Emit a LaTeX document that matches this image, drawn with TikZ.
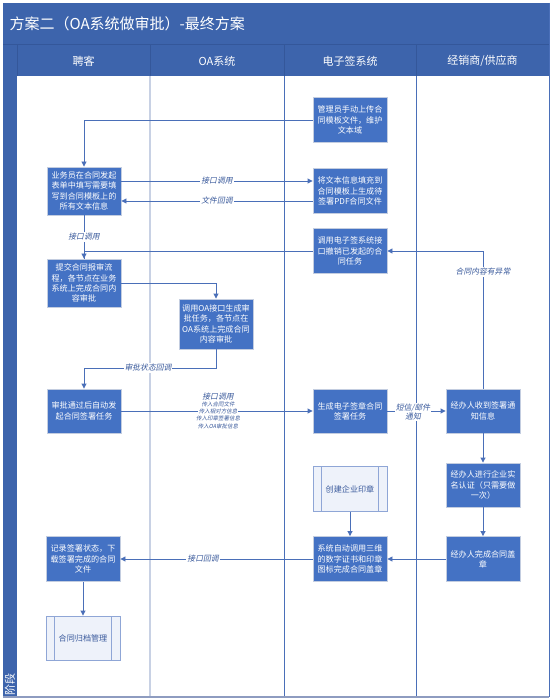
\documentclass[tikz,border=0pt]{standalone}
\usepackage{fontspec}
\newfontfamily\cjk{Noto Sans CJK SC}
\newfontfamily\cjkit[FakeSlant=0.2]{Noto Sans CJK SC}
\usetikzlibrary{arrows.meta}
\definecolor{band}{HTML}{3D64AC}
\definecolor{bandline}{HTML}{34579A}
\definecolor{boxfill}{HTML}{4472C4}
\definecolor{boxedge}{HTML}{C3CDE0}
\definecolor{lineblue}{HTML}{4A6FB8}
\definecolor{lbltext}{HTML}{3A5A9C}
\definecolor{ppfill}{HTML}{EEF2FA}
\definecolor{ppedge}{HTML}{8FA6D6}
\definecolor{lanelight}{HTML}{C8D1E4}
\definecolor{bottomline}{HTML}{8E9CC0}
\tikzset{
  procbox/.style={rectangle, fill=boxfill, draw=boxedge, line width=0.9pt, text=white,
    minimum width=74pt, minimum height=45pt, inner sep=1pt, align=center,
    font=\cjk\fontsize{8.1}{10.2}\selectfont},
  predef/.style={procbox, fill=ppfill, draw=ppedge, text=lbltext,
    path picture={\draw[ppedge, line width=0.9pt]
      ([xshift=8.5pt]path picture bounding box.north west) -- ([xshift=8.5pt]path picture bounding box.south west)
      ([xshift=-8.5pt]path picture bounding box.north east) -- ([xshift=-8.5pt]path picture bounding box.south east);}},
  flow/.style={draw=lineblue, line width=0.9pt, -{Triangle[length=5pt,width=5pt]}},
  plain/.style={draw=lineblue, line width=0.9pt},
  lbl/.style={fill=white, inner sep=1pt, text=lbltext, font=\cjkit\fontsize{7.8}{9}\selectfont, align=center},
  smalllbl/.style={fill=white, inner sep=0.5pt, text=lbltext, font=\cjkit\fontsize{5.5}{6}\selectfont},
  headtxt/.style={text=white, font=\cjk\fontsize{11}{12}\selectfont},
}
\begin{document}
\begin{tikzpicture}[x=1pt,y=-1pt]
\useasboundingbox (0,0) rectangle (552,700);
\fill[white] (0,0) rectangle (552,700);
% bands
\fill[band] (3,3) rectangle (549,76);
\fill[band] (3,45) rectangle (17,697);
\draw[bandline, line width=1pt] (3,45) -- (549,45);
\draw[bandline, line width=0.8pt] (17,45) -- (17,76) (150,45) -- (150,76) (284,45) -- (284,76) (416,45) -- (416,76);
% lanes
\draw[lanelight, line width=1.5pt] (150,76) -- (150,697);
\draw[lineblue, line width=0.8pt] (284,76) -- (284,697) (416,76) -- (416,697) (549,3) -- (549,697);
\draw[bottomline, line width=1.5pt] (3,697) -- (549,697);
% title and headers
\node[anchor=west, text=white, font=\cjk\fontsize{15}{16}\selectfont] (title) at (6,24) {方案二（OA系统做审批）-最终方案};
\node[headtxt] (h1) at (83.5,61) {聘客};
\node[headtxt] (h2) at (217,61) {OA系统};
\node[headtxt] (h3) at (350,61) {电子签系统};
\node[headtxt] (h4) at (482.5,61) {经销商/供应商};
\node[rotate=90, text=white, font=\cjk\fontsize{11}{12}\selectfont] (phase) at (10,684) {阶段};
% boxes
\node[procbox] (gly) at (350,120) {管理员手动上传合\\同模板文件，维护\\文本域};
\node[procbox] (jwb) at (350,191) {将文本信息填充到\\合同模板上生成待\\签署PDF合同文件};
\node[procbox] (dyd) at (350,251) {调用电子签系统接\\口撤销已发起的合\\同任务};
\node[procbox, minimum height=48pt] (ywy) at (84,191) {业务员在合同发起\\表单中填写需要填\\写到合同模板上的\\所有文本信息};
\node[procbox, minimum height=48pt] (tj) at (84,283) {提交合同报审流\\程，各节点在业务\\系统上完成合同内\\容审批};
\node[procbox, minimum height=50pt] (dyoa) at (216,324) {调用OA接口生成审\\批任务，各节点在\\OA系统上完成合同\\内容审批};
\node[procbox, minimum height=44pt] (sp) at (84,411) {审批通过后自动发\\起合同签署任务};
\node[procbox, minimum height=44pt] (sc) at (350,411) {生成电子签章合同\\签署任务};
\node[procbox, minimum height=44pt] (jbr) at (483,411) {经办人收到签署通\\知信息};
\node[procbox, minimum height=44pt] (smrz) at (483,485) {经办人进行企业实\\名认证（只需要做\\一次）};
\node[predef] (cj) at (350,489) {创建企业印章};
\node[procbox] (xt) at (350,559) {系统自动调用三维\\的数字证书和印章\\图标完成合同盖章};
\node[procbox] (wc) at (483,559) {经办人完成合同盖\\章};
\node[procbox] (jl) at (83,559) {记录签署状态，下\\载签署完成的合同\\文件};
\node[predef, minimum height=44pt] (gd) at (83,638) {合同归档管理};
% connectors
\draw[flow] (gly.west) -| (ywy.north);
\draw[flow] ([yshift=10pt]ywy.east) -- node[lbl] (l1) {接口调用} ([yshift=10pt]jwb.west);
\draw[flow] ([yshift=-10pt]jwb.west) -- node[lbl] (l2) {文件回调} ([yshift=-10pt]ywy.east);
\draw[plain] (dyd.west) -| (tj.north);
\draw[flow] (ywy.south) -- node[lbl] (l3) {接口调用} (tj.north);
\draw[flow] (tj.east) -| (dyoa.north);
\coordinate (c1) at (216,368);
\draw[flow] (dyoa.south) -- (c1) -| (sp.north);
\node[lbl] (l4) at (148,368) {审批状态回调};
\draw[flow] (sp.east) -- (sc.west);
\node[lbl] (l5) at (218,397) {接口调用};
\node[smalllbl] (l6) at (218,404.5) {传入合同文件};
\node[smalllbl] (l7) at (218,411) {传入相对方信息};
\node[smalllbl] (l8) at (218,418.5) {传入印章签署信息};
\node[smalllbl] (l9) at (218,426) {传入OA审批信息};
\draw[flow] (sc.east) -- (jbr.west);
\node[lbl, fill=white] (l10) at (413,412) {短信/邮件\\通知};
\draw[flow] (jbr.north) |- (dyd.east);
\node[lbl] (l11) at (483,272) {合同内容有异常};
\draw[flow] (jbr.south) -- (smrz.north);
\draw[flow] (smrz.south) -- (wc.north);
\draw[flow] (wc.west) -- (xt.east);
\draw[flow] (cj.south) -- (xt.north);
\draw[flow] (xt.west) -- node[lbl, pos=0.57] (l12) {接口回调} (jl.east);
\draw[flow] (jl.south) -- (gd.north);
\end{tikzpicture}
\end{document}
